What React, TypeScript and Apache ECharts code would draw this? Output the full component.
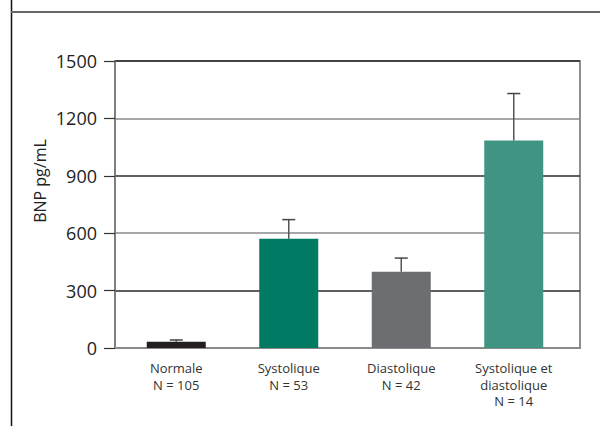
import React, { useEffect, useRef } from "react";
import * as echarts from "echarts";

const categories = ["Normale\nN = 105", "Systolique\nN = 53", "Diastolique\nN = 42", "Systolique et\ndiastolique\nN = 14"];
const means = [33, 571, 398, 1085];
const upperErr = [42, 671, 470, 1330];
const barColors = ["#231f20", "#007a63", "#6d6e71", "#409482"];
const yTicks = [0, 300, 600, 900, 1200, 1500];
const yName = "BNP pg/mL";

export default function App() {
  const ref = useRef<HTMLDivElement>(null);
  useEffect(() => {
    if (!ref.current) return;
    const chart = echarts.init(ref.current, null, { renderer: "svg" });
    const font = "'Open Sans', 'Noto Sans', sans-serif";
    chart.setOption({
      animation: false,
      backgroundColor: "#ffffff",
      textStyle: { fontFamily: font },
      grid: [
        { left: 120, right: 30, top: 61, bottom: 78 },
        { left: 115, right: 20, top: 61, bottom: 78, show: true, borderColor: "#6a6a6a", borderWidth: 1.5, backgroundColor: "transparent" },
      ],
      xAxis: [
        {
          type: "category",
          gridIndex: 0,
          data: categories,
          axisLine: { show: false },
          axisTick: { show: false },
          axisLabel: { color: "#333", fontSize: 13, lineHeight: 16.5, margin: 12, fontFamily: font, interval: 0 },
        },
        {
          type: "category",
          gridIndex: 1,
          data: categories,
          axisLine: { show: true, lineStyle: { color: "#8a8a8a", width: 2 } },
          axisTick: { show: false },
          axisLabel: { show: false },
        },
      ],
      yAxis: [
        {
          type: "value",
          gridIndex: 0,
          min: 0,
          max: 1500,
          interval: 300,
          show: false,
          splitLine: { show: false },
        },
        {
          type: "value",
          gridIndex: 1,
          min: yTicks[0],
          max: yTicks[yTicks.length - 1],
          interval: 300,
          axisLine: { show: true, lineStyle: { color: "#7a7a7a", width: 1.5 } },
          axisTick: { show: true, inside: false, length: 11, lineStyle: { color: "#333", width: 1.2 } },
          axisLabel: { color: "#222", fontSize: 18, margin: 18, fontFamily: font, formatter: (v: number) => String(v) },
          splitLine: { show: true, lineStyle: { color: ["#8a8a8a", "#2a2a2a"], width: 1.5 } },
        },
      ],
      graphic: [
        { type: "line", shape: { x1: 11.5, y1: 0, x2: 11.5, y2: 426 }, style: { stroke: "#111", lineWidth: 1.5 } },
        { type: "line", shape: { x1: 11, y1: 12, x2: 600, y2: 12 }, style: { stroke: "#666", lineWidth: 2 } },
        {
          type: "text",
          x: 40,
          y: 181,
          rotation: Math.PI / 2,
          style: { text: yName, fill: "#222", fontSize: 16, fontFamily: font, align: "center", verticalAlign: "middle" },
        },
      ],
      series: [
        {
          type: "bar",
          xAxisIndex: 0,
          yAxisIndex: 0,
          barWidth: 59,
          data: means.map((v, i) => ({ value: v, itemStyle: { color: barColors[i] } })),
          z: 3,
        },
        {
          type: "custom",
          xAxisIndex: 0,
          yAxisIndex: 0,
          z: 4,
          data: means.map((v, i) => [i, v, upperErr[i]]),
          renderItem: (params: any, api: any) => {
            const x = api.value(0);
            const lo = api.coord([x, api.value(1)]);
            const hi = api.coord([x, api.value(2)]);
            const cap = 6.5;
            return {
              type: "group",
              children: [
                { type: "line", shape: { x1: lo[0], y1: lo[1], x2: hi[0], y2: hi[1] }, style: { stroke: "#555", lineWidth: 1.5 } },
                { type: "line", shape: { x1: hi[0] - cap, y1: hi[1], x2: hi[0] + cap, y2: hi[1] }, style: { stroke: "#444", lineWidth: 1.5 } },
              ],
            };
          },
        },
      ],
    });
    return () => chart.dispose();
  }, []);
  return <div ref={ref} style={{ position: "fixed", left: 0, top: 0, width: 600, height: 426 }} />;
}
